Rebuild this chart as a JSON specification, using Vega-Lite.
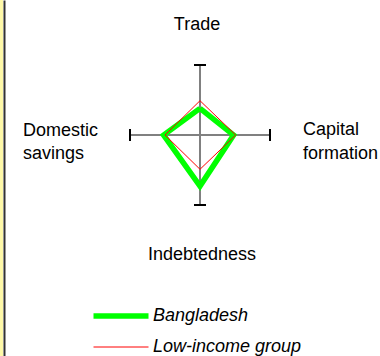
{
  "$schema": "https://vega.github.io/schema/vega-lite/v6.json",
  "width": 377,
  "height": 356,
  "autosize": "none",
  "padding": {"left": 3, "top": 0, "right": 0, "bottom": 0},
  "background": "#FFF9A8",
  "config": {"view": {"fill": "white", "stroke": null}, "font": "Liberation Sans"},
  "datasets": {
    "axes": [
      {"axis": "Trade", "label": "Trade", "x": 0, "y": 1},
      {"axis": "Capital formation", "label": "Capital\nformation", "x": 1, "y": 0},
      {"axis": "Indebtedness", "label": "Indebtedness", "x": 0, "y": -1},
      {"axis": "Domestic savings", "label": "Domestic\nsavings", "x": -1, "y": 0}
    ],
    "profile": [
      {"series": "Bangladesh", "axis": "Trade", "order": 1, "x": 0, "y": 0.38},
      {"series": "Bangladesh", "axis": "Capital formation", "order": 2, "x": 0.48, "y": 0},
      {"series": "Bangladesh", "axis": "Indebtedness", "order": 3, "x": 0, "y": -0.73},
      {"series": "Bangladesh", "axis": "Domestic savings", "order": 4, "x": -0.52, "y": 0},
      {"series": "Bangladesh", "axis": "Trade", "order": 5, "x": 0, "y": 0.38},
      {"series": "Low-income group", "axis": "Trade", "order": 1, "x": 0, "y": 0.49},
      {"series": "Low-income group", "axis": "Capital formation", "order": 2, "x": 0.51, "y": 0},
      {"series": "Low-income group", "axis": "Indebtedness", "order": 3, "x": 0, "y": -0.49},
      {"series": "Low-income group", "axis": "Domestic savings", "order": 4, "x": -0.5, "y": 0},
      {"series": "Low-income group", "axis": "Trade", "order": 5, "x": 0, "y": 0.49}
    ]
  },
  "layer": [
    {
      "data": {"name": "axes"},
      "mark": {"type": "rule", "color": "#808080", "strokeWidth": 2},
      "encoding": {
        "x": {"field": "x", "type": "quantitative", "scale": {"domain": [-2.8142857, 2.5714286], "nice": false, "zero": false}, "axis": null},
        "y": {"field": "y", "type": "quantitative", "scale": {"domain": [-3.1571429, 1.9285714], "nice": false, "zero": false},
              "axis": {"domain": true, "domainColor": "#333333", "domainWidth": 2, "ticks": false, "labels": false, "grid": false, "title": null, "offset": -1}},
        "x2": {"datum": 0},
        "y2": {"datum": 0}
      }
    },
    {
      "data": {"name": "axes"},
      "transform": [{"filter": "datum.x == 0"}],
      "mark": {"type": "tick", "orient": "horizontal", "color": "black", "size": 12, "thickness": 2, "opacity": 1},
      "encoding": {
        "x": {"field": "x", "type": "quantitative"},
        "y": {"field": "y", "type": "quantitative"}
      }
    },
    {
      "data": {"name": "axes"},
      "transform": [{"filter": "datum.y == 0"}],
      "mark": {"type": "tick", "orient": "vertical", "color": "black", "size": 12, "thickness": 2, "opacity": 1},
      "encoding": {
        "x": {"field": "x", "type": "quantitative"},
        "y": {"field": "y", "type": "quantitative"}
      }
    },
    {
      "data": {"name": "profile"},
      "mark": {"type": "line", "strokeJoin": "miter"},
      "encoding": {
        "x": {"field": "x", "type": "quantitative"},
        "y": {"field": "y", "type": "quantitative"},
        "order": {"field": "order", "type": "quantitative"},
        "color": {"field": "series", "type": "nominal",
          "scale": {"domain": ["Bangladesh", "Low-income group"], "range": ["#00FF00", "#FF0000"]},
          "legend": {"orient": "none", "legendX": 109, "legendY": 307, "title": null, "padding": 0,
                     "symbolType": "M-5,0H5", "symbolSize": 121, "labelOffset": 23, "rowPadding": 11,
                     "labelFontSize": 18, "labelFontStyle": "italic", "labelColor": "black", "labelFont": "Liberation Sans", "labelLimit": 300}},
        "strokeWidth": {"field": "series", "type": "nominal",
          "scale": {"type": "ordinal", "domain": ["Bangladesh", "Low-income group"], "range": [5.5, 1]},
          "legend": {"orient": "none", "legendX": 109, "legendY": 307, "title": null, "padding": 0,
                     "symbolType": "M-5,0H5", "symbolSize": 121, "labelOffset": 23, "rowPadding": 11,
                     "labelFontSize": 18, "labelFontStyle": "italic", "labelColor": "black", "labelFont": "Liberation Sans", "labelLimit": 300}}
      }
    },
    {
      "data": {"name": "axes"},
      "transform": [{"filter": "datum.axis == 'Trade'"}],
      "mark": {"type": "text", "fontSize": 18, "align": "center", "baseline": "alphabetic", "dx": -3, "dy": -35, "color": "black"},
      "encoding": {
        "x": {"field": "x", "type": "quantitative"},
        "y": {"field": "y", "type": "quantitative"},
        "text": {"field": "label"}
      }
    },
    {
      "data": {"name": "axes"},
      "transform": [{"filter": "datum.axis == 'Indebtedness'"}],
      "mark": {"type": "text", "fontSize": 18, "align": "center", "baseline": "alphabetic", "dx": 2, "dy": 55, "color": "black"},
      "encoding": {
        "x": {"field": "x", "type": "quantitative"},
        "y": {"field": "y", "type": "quantitative"},
        "text": {"field": "label"}
      }
    },
    {
      "data": {"name": "axes"},
      "transform": [{"filter": "datum.axis == 'Domestic savings'"}],
      "mark": {"type": "text", "fontSize": 18, "align": "left", "baseline": "alphabetic", "dx": -107, "dy": 1, "lineBreak": "\n", "lineHeight": 23, "color": "black"},
      "encoding": {
        "x": {"field": "x", "type": "quantitative"},
        "y": {"field": "y", "type": "quantitative"},
        "text": {"field": "label"}
      }
    },
    {
      "data": {"name": "axes"},
      "transform": [{"filter": "datum.axis == 'Capital formation'"}],
      "mark": {"type": "text", "fontSize": 18, "align": "left", "baseline": "alphabetic", "dx": 33, "dy": 0, "lineBreak": "\n", "lineHeight": 24, "color": "black"},
      "encoding": {
        "x": {"field": "x", "type": "quantitative"},
        "y": {"field": "y", "type": "quantitative"},
        "text": {"field": "label"}
      }
    }
  ]
}
